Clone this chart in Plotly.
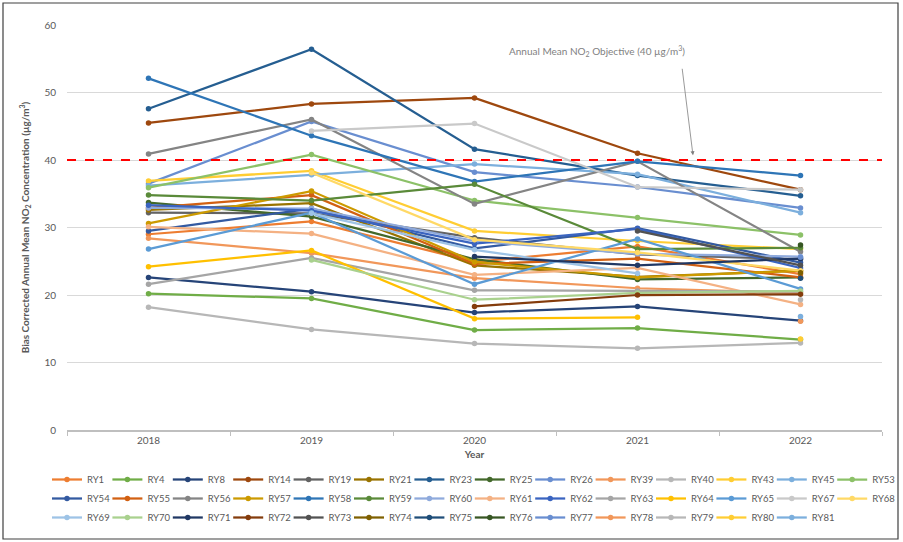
import plotly.graph_objects as go

years = ["2018", "2019", "2020", "2021", "2022"]

site_names = ["RY1", "RY4", "RY8", "RY14", "RY19", "RY21", "RY23", "RY25", "RY26", "RY39",
              "RY40", "RY43", "RY45", "RY53", "RY54", "RY55", "RY56", "RY57", "RY58", "RY59",
              "RY60", "RY61", "RY62", "RY63", "RY64", "RY65", "RY67", "RY68", "RY69", "RY70",
              "RY71", "RY72", "RY73", "RY74", "RY75", "RY76", "RY77", "RY78", "RY79", "RY80",
              "RY81"]

site_colors = ["#ED7D31", "#70AD47", "#264478", "#9E480E", "#636363", "#997300", "#255E91", "#43682B", "#698ED0", "#F1975A",
               "#B7B7B7", "#FFCD33", "#7CAFDD", "#8CC168", "#335AA1", "#D26012", "#848484", "#CC9A00", "#2E75B6", "#5A8A39",
               "#8FAADC", "#F4B183", "#3A64C0", "#A5A5A5", "#FFC000", "#5B9BD5", "#C9C9C9", "#FFD966", "#9DC3E6", "#A9D18E",
               "#203864", "#843C0C", "#525252", "#7F6000", "#1F4E79", "#375623", "#698ED0", "#F1975A", "#B7B7B7", "#FFCD33",
               "#7CAFDD"]

N = None
v2018 = [29.0, 20.2, 22.6, 45.5, 32.2, 32.6, 47.6, 33.7, 36.5, 28.4,
         18.2, 36.9, 36.2, 35.9, 29.5, 32.9, 40.9, 30.6, 52.1, 34.8,
         32.9, 30.1, 33.3, 21.6, 24.2, 26.8, N, N, N, N,
         N, N, N, N, N, N, N, N, N, N,
         N]
v2019 = [30.9, 19.5, 20.5, 48.3, 32.1, 33.6, 56.4, 31.6, 45.7, 26.2,
         14.9, 38.4, 37.8, 40.8, 32.8, 34.8, 46.0, 35.4, 43.6, 34.0,
         32.8, 29.1, 32.5, 25.5, 26.6, 32.2, 44.3, 38.1, 32.1, 25.2,
         N, N, N, N, N, N, N, N, N, N,
         N]
v2020 = [24.9, 14.8, 17.4, 49.2, 28.5, 24.4, 41.6, 25.3, 38.2, 22.5,
         12.8, 29.5, 39.4, 34.0, 26.9, 24.6, 33.5, 24.9, 36.8, 36.4,
         28.0, 23.0, 27.6, 20.7, 16.5, 21.6, 45.4, 28.2, 26.7, 19.3,
         25.7, 18.3, N, N, N, N, N, N, N, N,
         N]
v2021 = [27.2, 15.1, 18.3, 41.0, 26.0, 22.7, 37.7, 22.3, 36.0, 21.0,
         12.1, 28.0, 37.9, 31.5, 29.9, 25.4, 39.8, 22.6, 39.8, 26.8,
         26.1, 24.0, 29.8, 20.6, 16.7, 28.3, 36.0, 26.3, 23.2, 20.3,
         24.4, 20.0, 29.5, N, N, N, N, N, N, N,
         N]
v2022 = [23.1, 13.4, 16.2, 35.6, 25.3, 23.6, 34.7, 22.6, 32.9, 20.3,
         12.9, 26.8, 32.2, 28.9, 24.8, 22.6, 26.4, 23.6, 37.7, 27.0,
         25.7, 18.6, 24.0, 20.5, N, 20.9, 35.6, 23.6, N, 20.6,
         25.4, 20.1, 24.4, 23.3, 22.5, 27.4, 25.6, 16.1, 19.3, 13.5,
         16.8]

objective = 40
objective_text = "Annual Mean NO<sub>2</sub> Objective (40 µg/m<sup>3</sup>)"
y_ticks = [0, 10, 20, 30, 40, 50, 60]

LEGEND_COLS = 14
FONT = "Lato, Calibri, Arial, sans-serif"
GREY = "#595959"

fig = go.Figure()
for i, name in enumerate(site_names):
    vals = [v2018[i], v2019[i], v2020[i], v2021[i], v2022[i]]
    last_col = (i % LEGEND_COLS) == LEGEND_COLS - 1
    fig.add_trace(go.Scatter(
        x=years, y=vals, name=name, mode="lines+markers",
        line=dict(color=site_colors[i], width=2.25),
        marker=dict(color=site_colors[i], size=5.5),
        connectgaps=False, legendrank=i,
        legend="legend2" if last_col else "legend",
    ))
    if last_col:
        # invisible placeholder keeping the grid of the main legend
        fig.add_trace(go.Scatter(
            x=[years[0]], y=[None], name=" ", mode="lines",
            line=dict(width=0, color="rgba(0,0,0,0)"),
            hoverinfo="skip", legendrank=i, legend="legend", showlegend=True,
        ))

fig.add_shape(type="line", xref="paper", yref="y", x0=0, x1=1, y0=objective, y1=objective,
              line=dict(color="#FF0000", width=2, dash="dash"), layer="above")

# chart frame
fig.add_shape(type="rect", xref="paper", yref="paper",
              x0=(3 - 67) / 815, x1=(898 - 67) / 815, y0=(430 - 539) / 405, y1=(430 - 3) / 405,
              line=dict(color="#404040", width=1.2), fillcolor="rgba(0,0,0,0)")

fig.add_annotation(text=objective_text, xref="paper", yref="paper",
                   x=(597 - 67) / 815, y=(430 - 42) / 405, showarrow=False,
                   font=dict(family=FONT, size=10, color="#7F7F7F"))
fig.add_annotation(text="", xref="paper", yref="y",
                   x=(693 - 67) / 815, y=40.7, showarrow=True,
                   ax=-11, ay=-88, arrowhead=2, arrowsize=1, arrowwidth=0.8,
                   arrowcolor="#7F7F7F")

legend_common = dict(yanchor="top", xanchor="left", font=dict(family=FONT, size=9.5, color=GREY),
                     itemwidth=30, tracegroupgap=0, bgcolor="rgba(0,0,0,0)")
step = 60.4
leg_x_px = 47

fig.update_layout(
    width=903, height=542,
    margin=dict(l=67, r=21, t=25, b=112, autoexpand=False),
    paper_bgcolor="white", plot_bgcolor="white",
    font=dict(family=FONT, size=10, color=GREY),
    showlegend=True,
    legend=dict(orientation="h", x=(leg_x_px - 67) / 815, y=-(465 - 430) / 405,
                entrywidth=step - 45, entrywidthmode="pixels", **legend_common),
    legend2=dict(orientation="v", x=(leg_x_px + 13 * step - 67) / 815, y=-(465 - 430) / 405,
                 **legend_common),
    xaxis=dict(
        type="category", range=[-0.5, 4.5],
        showline=True, linecolor="#BFBFBF", linewidth=1.5,
        ticks="outside", tickson="boundaries", ticklen=4, tickcolor="#BFBFBF",
        showgrid=False, zeroline=False,
        tickfont=dict(family=FONT, size=10, color=GREY),
        title=dict(text="<b>Year</b>", font=dict(family=FONT, size=10, color=GREY), standoff=6),
    ),
    yaxis=dict(
        range=[0, 60], tickvals=y_ticks,
        showgrid=True, gridcolor="#D9D9D9", gridwidth=1,
        showline=False, zeroline=False,
        ticks="", ticklabelstandoff=10,
        tickfont=dict(family=FONT, size=10, color=GREY),
        title=dict(text="<b>Bias Corrected Annual Mean NO<sub>2</sub> Concentration (µg/m<sup>3</sup>)</b>",
                   font=dict(family=FONT, size=10, color=GREY), standoff=12),
    ),
)

fig.write_html("out.html")
